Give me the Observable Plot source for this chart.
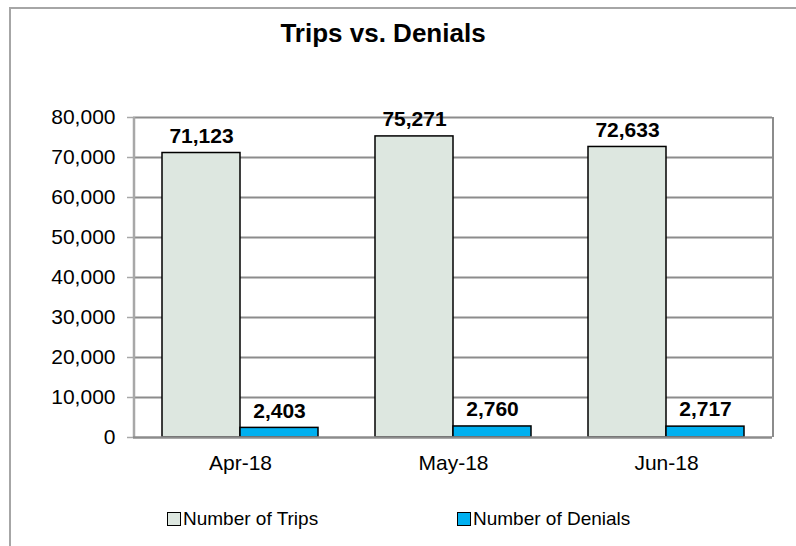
<!DOCTYPE html>
<html>
<head>
<meta charset="utf-8">
<script src="https://cdn.jsdelivr.net/npm/d3@7"></script>
<script src="https://cdn.jsdelivr.net/npm/@observablehq/plot@0.6"></script>
<style>
  html, body { margin: 0; padding: 0; background: #fff; }
  #wrap { position: relative; width: 796px; height: 546px; overflow: hidden; background: #fff; font-family: Arial, "Liberation Sans", sans-serif; }
  #frame { position: absolute; left: 9px; top: 7px; width: 900px; height: 900px; border: 2px solid #a6a6a6; box-sizing: border-box; }
  #title { position: absolute; left: 0; width: 766px; top: 17px; text-align: center; font-weight: bold; font-size: 26px; line-height: 32px; color: #000; }
  #chart { position: absolute; left: 0; top: 0; }
  #legend { position: absolute; top: 508px; left: 0; width: 796px; height: 24px; font-size: 19px; color: #000; }
  .item { position: absolute; display: flex; align-items: center; }
  .sw { width: 12px; height: 12px; border: 1.5px solid #000; margin-right: 2px; }
</style>
</head>
<body>
<div id="wrap">
  <div id="frame"></div>
  <div id="chart"></div>
  <div id="title"></div>
  <div id="legend"></div>
</div>
<script>
const title = "Trips vs. Denials";
const months = ["Apr-18", "May-18", "Jun-18"];
const trips = [71123, 75271, 72633];
const denials = [2403, 2760, 2717];
const seriesNames = ["Number of Trips", "Number of Denials"];
const seriesColors = ["#dde7e0", "#00b0f0"];
const yTicks = [0, 10000, 20000, 30000, 40000, 50000, 60000, 70000, 80000];

const tripsData = months.map((m, i) => ({month: m, value: trips[i]}));
const denialsData = months.map((m, i) => ({month: m, value: denials[i]}));

const W = 796, H = 546;
const mL = 133, mR = 24, mT = 117, mB = 109;
const step = (W - mL - mR) / months.length;
const band = 156;
const pInner = (step - band) / step;
const half = band / 2;
const fmt = d3.format(",");

const chart = Plot.plot({
  width: W,
  height: H,
  marginLeft: mL,
  marginRight: mR,
  marginTop: mT,
  marginBottom: mB,
  style: {fontFamily: "Arial, 'Liberation Sans', sans-serif", fontSize: "21px", color: "#000", background: "transparent"},
  x: {domain: months, paddingInner: pInner, paddingOuter: pInner / 2, label: null},
  y: {domain: [0, 80000], label: null},
  marks: [
    Plot.ruleY(yTicks.filter(d => d > 0), {stroke: "#8c8c8c", strokeWidth: 2}),
    Plot.ruleX([months[months.length - 1]], {dx: step / 2, stroke: "#8c8c8c", strokeWidth: 2, y1: 0, y2: 80000}),
    Plot.barY(tripsData, {x: "month", y: "value", fill: seriesColors[0], stroke: "#000", strokeWidth: 1.5, insetRight: half}),
    Plot.barY(denialsData, {x: "month", y: "value", fill: seriesColors[1], stroke: "#000", strokeWidth: 1.5, insetLeft: half}),
    Plot.ruleX([months[0]], {dx: -step / 2, stroke: "#a8a8a8", strokeWidth: 2.5, y1: 0, y2: 80000}),
    Plot.ruleY([0], {stroke: "#8c8c8c", strokeWidth: 2.5}),
    Plot.axisY({ticks: yTicks, tickFormat: fmt, tickSize: 6, tickPadding: 12, stroke: "#a8a8a8", strokeWidth: 1.5, fill: "#000", fontSize: 21}),
    Plot.axisX({tickSize: 0, tickPadding: 18, fill: "#000", fontSize: 21}),
    Plot.text(tripsData, {x: "month", y: "value", text: d => fmt(d.value), dx: -half / 2, dy: -17, fontWeight: "bold", fontSize: 21, fill: "#000"}),
    Plot.text(denialsData, {x: "month", y: "value", text: d => fmt(d.value), dx: half / 2, dy: -17, fontWeight: "bold", fontSize: 21, fill: "#000"})
  ]
});
document.getElementById("chart").appendChild(chart);
document.getElementById("title").textContent = title;

const legend = document.getElementById("legend");
const legendX = [167, 457];
seriesNames.forEach((name, i) => {
  const item = document.createElement("div");
  item.className = "item";
  item.style.left = legendX[i] + "px";
  item.style.top = "0px";
  const sw = document.createElement("div");
  sw.className = "sw";
  sw.style.background = seriesColors[i];
  const t = document.createElement("span");
  t.textContent = name;
  item.appendChild(sw);
  item.appendChild(t);
  legend.appendChild(item);
});
</script>
</body>
</html>
